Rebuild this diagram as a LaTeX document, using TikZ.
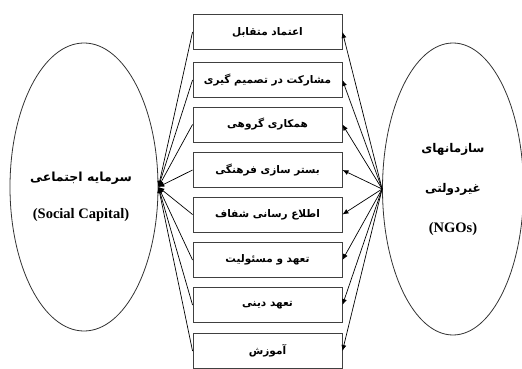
\documentclass[tikz,border=0pt]{standalone}
\usepackage{fontspec}
\setmainfont{Liberation Serif}
\newfontfamily\arabicfont[Script=Arabic]{DejaVu Sans}
\usetikzlibrary{shapes.geometric,arrows.meta}
\TeXXeTstate=1
\newcommand{\fa}[1]{{\arabicfont\bfseries\beginR #1\endR}}
\begin{document}
\begin{tikzpicture}[
    x=1pt, y=-1pt,
    item/.style={rectangle, draw=black!75, line width=0.9pt, minimum width=149pt, minimum height=35pt, inner sep=0pt, font=\fontsize{10.5}{12}\selectfont},
    side/.style={ellipse, draw=black!80, line width=0.8pt, inner sep=0pt},
    title/.style={align=center, inner sep=0pt, font=\bfseries\fontsize{14.5}{16}\selectfont},
    arrow/.style={-{Latex[length=6pt,width=5pt]}, line width=0.7pt}
]
\useasboundingbox (0,0) rectangle (522,369);
% Social capital
\node[side, minimum width=148pt, minimum height=288pt] (sc) at (84,187) {};
\node[title] (sctext) at (81,197)
      {\fa{\fontsize{12.5}{15}\selectfont سرمایه اجتماعی}\\[21pt](Social Capital)};
% NGOs
\node[side, minimum width=141pt, minimum height=292pt] (ngo) at (453,189) {};
\node[title] (ngotext) at (453,189)
      {\fa{\fontsize{12}{14}\selectfont سازمانهای}\\[24pt]\fa{\fontsize{12}{14}\selectfont غیردولتی}\\[24pt](NGOs)};
% Components
\node[item] (trust) at (267.5,32) {\fa{اعتماد متقابل}};
\node[item] (part) at (267.5,80) {\fa{مشارکت در تصمیم گیری}};
\node[item] (coop) at (267.5,124.5) {\fa{همکاری گروهی}};
\node[item] (cult) at (267.5,170) {\fa{بستر سازی فرهنگی}};
\node[item] (info) at (267.5,214.5) {\fa{اطلاع رسانی شفاف}};
\node[item] (resp) at (267.5,260) {\fa{تعهد و مسئولیت}};
\node[item] (rel) at (267.5,305) {\fa{تعهد دینی}};
\node[item] (edu) at (267.5,351) {\fa{آموزش}};
% Arrows into social capital
\draw[arrow] (trust.west) -- (sc.east);
\draw[arrow] (part.west) -- (sc.east);
\draw[arrow] (coop.west) -- (sc.east);
\draw[arrow] (cult.west) -- (sc.east);
\draw[arrow] (info.west) -- (sc.east);
\draw[arrow] (resp.west) -- (sc.east);
\draw[arrow] (rel.west) -- (sc.east);
\draw[arrow] (edu.west) -- (sc.east);
% Arrows from NGOs
\draw[arrow] (ngo.west) -- (trust.east);
\draw[arrow] (ngo.west) -- (part.east);
\draw[arrow] (ngo.west) -- (coop.east);
\draw[arrow] (ngo.west) -- (cult.east);
\draw[arrow] (ngo.west) -- (info.east);
\draw[arrow] (ngo.west) -- (resp.east);
\draw[arrow] (ngo.west) -- (rel.east);
\draw[arrow] (ngo.west) -- (edu.east);
\end{tikzpicture}
\end{document}
